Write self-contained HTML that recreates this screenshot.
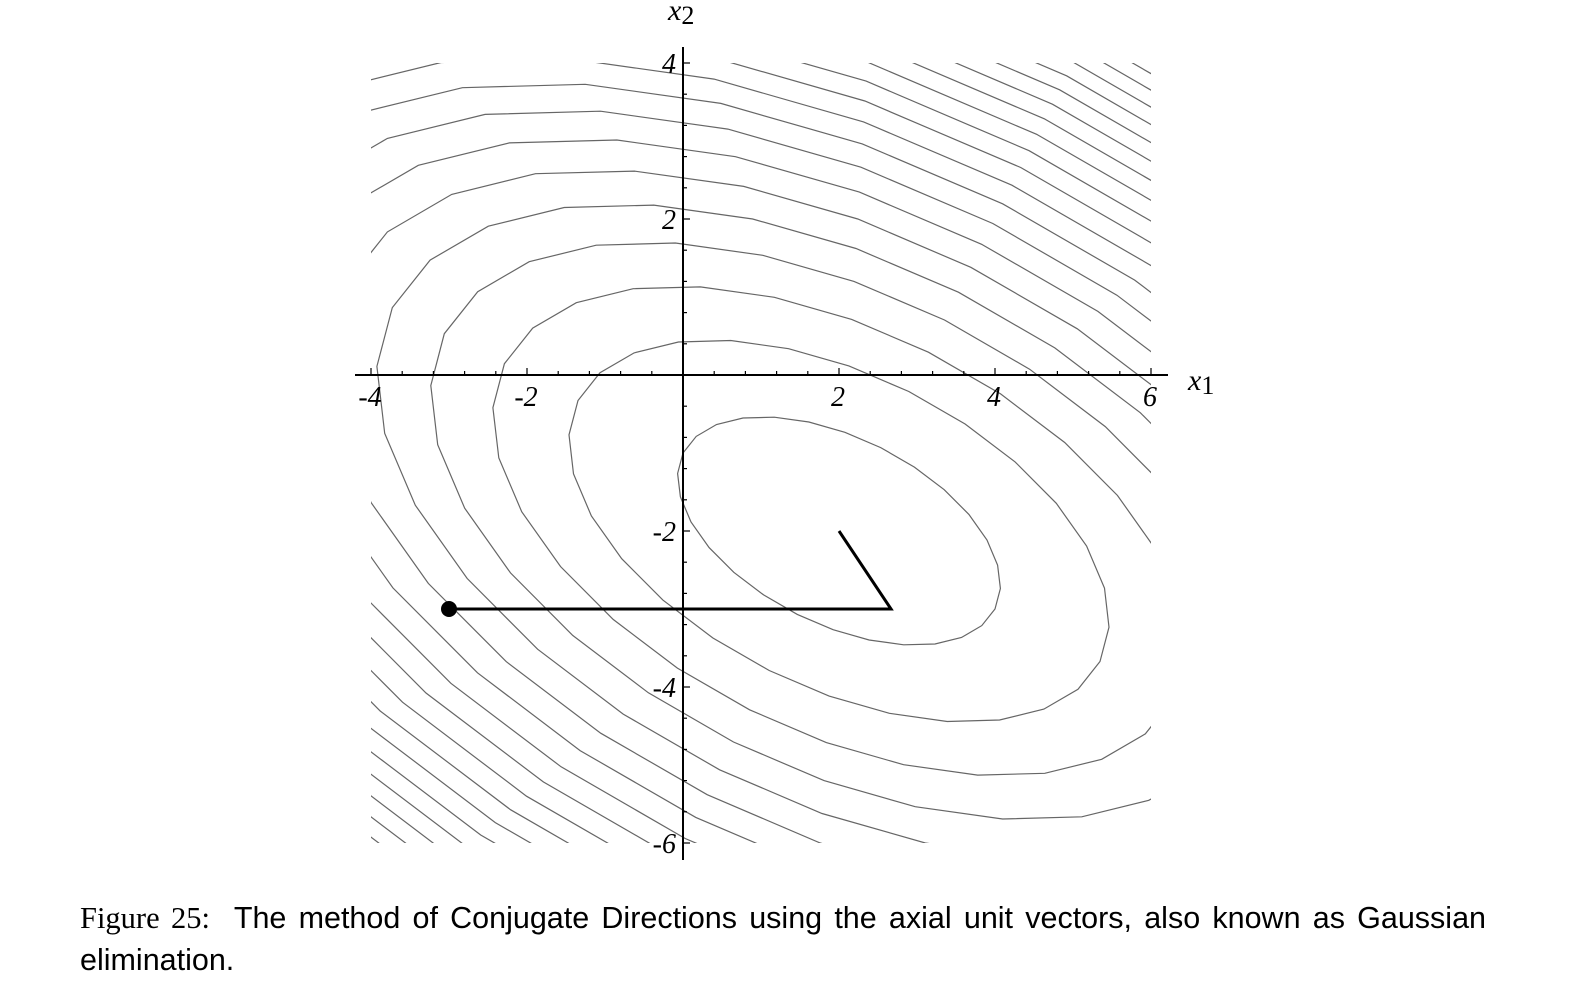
<!DOCTYPE html>
<html><head><meta charset="utf-8"><style>
html,body{margin:0;background:#fff;width:1594px;height:1000px;overflow:hidden;font-family:"Liberation Sans",sans-serif}
#cap{position:absolute;left:80px;top:897px;width:1406px;height:86px;font-size:30.5px;line-height:42px;color:#000;overflow:hidden}
#cap .l1{text-align:justify;text-align-last:justify;white-space:nowrap}
</style></head><body>
<svg id="chart" width="1594" height="880" style="position:absolute;left:0;top:0">
<defs><clipPath id="clip"><rect x="371" y="63" width="780" height="780"/></clipPath></defs>
<g id="contours" clip-path="url(#clip)"></g>
<g id="axes"></g>
<g id="path"></g>
</svg>
<div id="cap"><div class="l1"><span style="font-family:'Liberation Serif',serif">Figure 25:</span>&nbsp; The method of Conjugate Directions using the axial unit vectors, also known as Gaussian</div><div>elimination.</div></div>
<script>
const levels=[-5,4,13,22,31,40,49,58,67,76,85,94,103,112,121,130,139,148,157,166];
const minimum=[2,-2];
const pathX=[-3,2.667,2];
const pathY=[-3,-3,-2];
const xTicks=[-4,-2,2,4,6];
const yTicks=[-6,-4,-2,2,4];
const X=v=>683+78*v, Y=v=>375-78*v;
const NS="http://www.w3.org/2000/svg";
function mk(t,a,p){const e=document.createElementNS(NS,t);for(const k in a)e.setAttribute(k,a[k]);p.appendChild(e);return e;}
const cg=document.getElementById('contours');
const s5=Math.sqrt(5);
levels.forEach((L,i)=>{
  const r1=Math.sqrt(2*(L+10)/7), r2=Math.sqrt(2*(L+10)/2);
  let pts=[];
  for(let k=0;k<28;k++){const t=k/28*2*Math.PI;
    const a=r1*Math.cos(t), b=r2*Math.sin(t);
    const x=minimum[0]+a/s5+2*b/s5, y=minimum[1]+2*a/s5-b/s5;
    pts.push(X(x).toFixed(1)+','+Y(y).toFixed(1));}
  const e=mk('polygon',{points:pts.join(' '),fill:'none',stroke:'#666','stroke-width':1.2},cg);
  
  
});
const ax=document.getElementById('axes');
mk('line',{x1:355,y1:375,x2:1168,y2:375,stroke:'#000','stroke-width':2},ax);
mk('line',{x1:683,y1:47,x2:683,y2:860,stroke:'#000','stroke-width':2},ax);
for(let v=-4;v<=6.01;v+=0.4){const big=Math.abs(v/2-Math.round(v/2))<0.01;mk('line',{x1:X(v),y1:375,x2:X(v),y2:375-(big?7:4),stroke:'#000','stroke-width':1.2},ax);}
for(let v=-6;v<=4.01;v+=0.4){const big=Math.abs(v/2-Math.round(v/2))<0.01;mk('line',{x1:683,y1:Y(v),x2:683+(big?7:4),y2:Y(v),stroke:'#000','stroke-width':1.2},ax);}
xTicks.forEach(v=>{const t=mk('text',{x:X(v)-1,y:406,'text-anchor':'middle','font-family':'Liberation Serif,serif','font-style':'italic','font-size':28},ax);t.textContent=v;

});
yTicks.forEach(v=>{const t=mk('text',{x:676,y:Y(v)+10,'text-anchor':'end','font-family':'Liberation Serif,serif','font-style':'italic','font-size':28},ax);t.textContent=v;

});
let t=mk('text',{x:1188,y:390,'font-family':'Liberation Serif,serif','font-style':'italic','font-size':30},ax);t.innerHTML='x<tspan font-style="normal" font-size="26" dy="4">1</tspan>';


t=mk('text',{x:668,y:20,'font-family':'Liberation Serif,serif','font-style':'italic','font-size':30},ax);t.innerHTML='x<tspan font-style="normal" font-size="26" dy="4">2</tspan>';


const pg=document.getElementById('path');
const pl=mk('polyline',{points:pathX.map((x,i)=>X(x)+','+Y(pathY[i])).join(' '),fill:'none',stroke:'#000','stroke-width':3},pg);


const st=mk('circle',{cx:X(pathX[0]),cy:Y(pathY[0]),r:8,fill:'#000'},pg);


</script>
</body></html>
